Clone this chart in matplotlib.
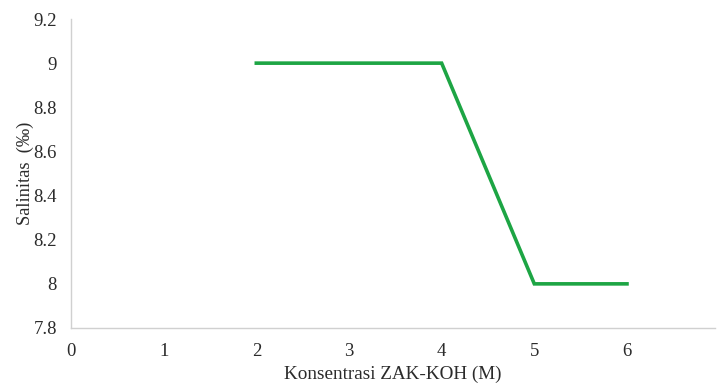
import matplotlib
matplotlib.use("Agg")
import matplotlib.pyplot as plt

plt.rcParams.update({
    "font.family": ["Liberation Serif", "DejaVu Serif"],
    "font.size": 13,
})

# data
konsentrasi = [2, 3, 4, 5, 6]
salinitas = [9, 9, 9, 8, 8]
x_ticks = [0, 1, 2, 3, 4, 5, 6]
y_ticks = [7.8, 8.0, 8.2, 8.4, 8.6, 8.8, 9.0, 9.2]
y_labels = ["7.8", "8", "8.2", "8.4", "8.6", "8.8", "9", "9.2"]

fig = plt.figure(figsize=(7.17, 3.87), dpi=100)
ax = fig.add_axes([71 / 717, 59 / 387, 644 / 717, 309 / 387])

ax.plot(konsentrasi, salinitas, color="#1DA544", lw=2.6, solid_joinstyle="miter")

ax.set_xlim(0, 6.95)
ax.set_ylim(7.8, 9.2)
ax.set_xticks(x_ticks)
ax.set_yticks(y_ticks)
ax.set_yticklabels(y_labels)
ax.tick_params(length=0, labelsize=13.5, colors="#2b2b2b")
ax.tick_params(axis="y", pad=10)
ax.tick_params(axis="x", pad=11)

for side in ["top", "right"]:
    ax.spines[side].set_visible(False)
for side in ["left", "bottom"]:
    ax.spines[side].set_color("#D0D0D0")
    ax.spines[side].set_linewidth(1.0)

ax.set_xlabel("Konsentrasi ZAK-KOH (M)", fontsize=13.8, color="#2b2b2b", labelpad=4)
ax.set_ylabel("Salinitas  (‰)", fontsize=13.2, color="#2b2b2b", labelpad=0)

fig.savefig("out.png", dpi=100)
